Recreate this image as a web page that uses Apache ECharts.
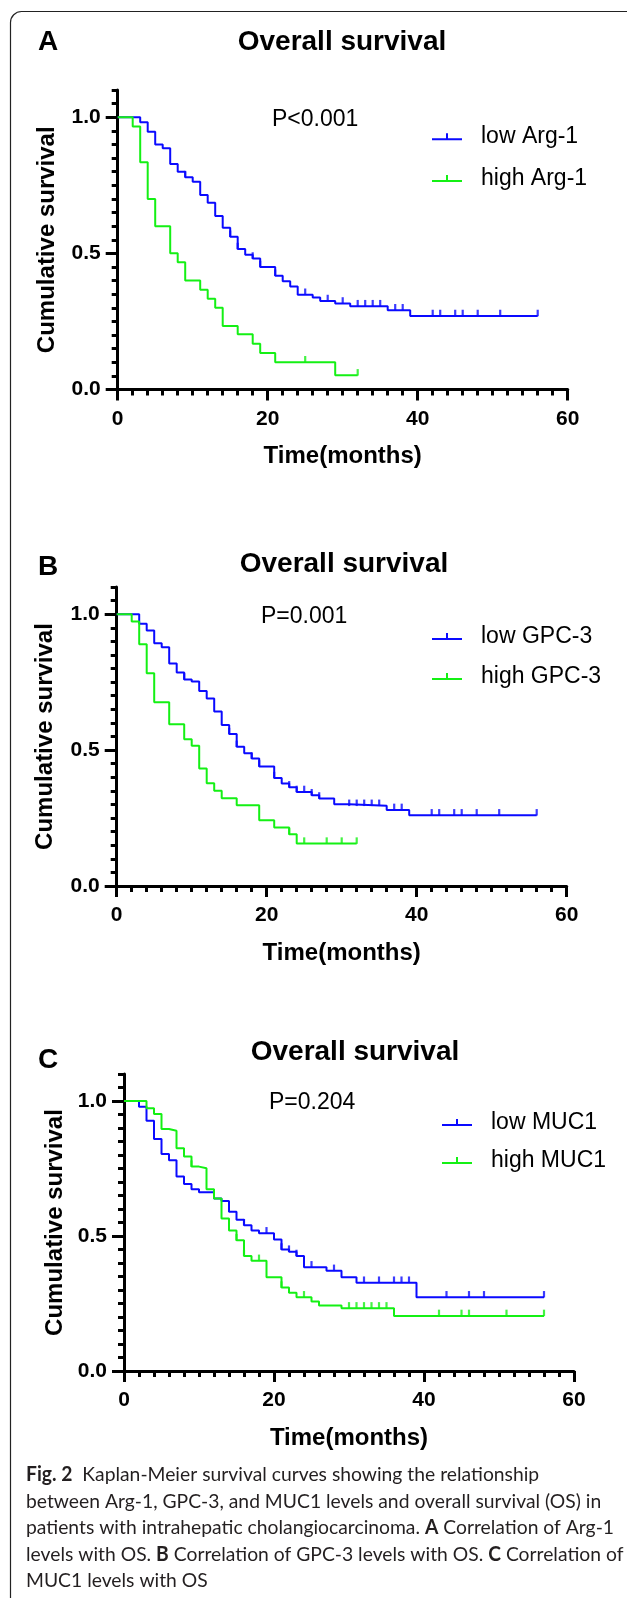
<!DOCTYPE html>
<html>
<head>
<meta charset="utf-8">
<script src="https://cdn.jsdelivr.net/npm/echarts@6/dist/echarts.min.js"></script>
<style>
html,body{margin:0;padding:0;background:#fff;}
#main{width:627px;height:1598px;}
</style>
</head>
<body>
<div id="main"></div>
<script>
// A: Arg-1
var tA_low = [0,3,4,5,6,7,8,9,10,11,12,13,14,15,16,17,18,19,21,22,23,24,26,27,29,31,36,39];
var sA_low = [1,0.982,0.947,0.90,0.886,0.828,0.80,0.78,0.763,0.714,0.686,0.637,0.594,0.561,0.516,0.495,0.481,0.45,0.418,0.398,0.378,0.348,0.338,0.325,0.316,0.306,0.291,0.27];
var cA_low = [9,15,16,18,19,21,25,28,30,32,33,34,35,37,38,42,43,45,46,48,51,56];
var tA_high = [0,2,3,4,5,7,8,9,11,12,13,14,16,18,19,21,29];
var sA_high = [1,0.966,0.835,0.70,0.60,0.50,0.467,0.40,0.366,0.333,0.30,0.233,0.203,0.168,0.134,0.10,0.052];
var cA_high = [25,32];

// B: GPC-3
var tB_low = [0,3,4,5,6,7,8,9,10,11,12,13,14,15,16,17,18,19,21,22,23,24,26,27,29,31,36,39];
var sB_low = [1,0.965,0.94,0.893,0.878,0.819,0.785,0.76,0.752,0.717,0.69,0.642,0.592,0.559,0.512,0.488,0.469,0.44,0.397,0.377,0.363,0.346,0.334,0.322,0.301,0.295,0.28,0.26];
var cB_low = [9,15,16,18,19,21,23,24,25,26,27,31,32,33,34,35,37,38,42,43,45,46,48,51,56];
var tB_high = [0,2,3,4,5,7,9,10,11,12,13,14,16,19,21,23,24];
var sB_high = [1,0.973,0.889,0.783,0.676,0.595,0.54,0.516,0.432,0.378,0.35,0.323,0.297,0.242,0.215,0.19,0.156];
var cB_high = [23,25,28,30,32];

// C: MUC1
var tC_low = [0,2,3,4,5,6,7,8,9,10,12,13,14,15,16,17,18,20,21,22,23,24,27,29,31,39];
var sC_low = [1,0.979,0.927,0.859,0.804,0.781,0.72,0.693,0.673,0.662,0.639,0.63,0.59,0.56,0.54,0.52,0.51,0.487,0.45,0.442,0.426,0.384,0.371,0.347,0.327,0.273];
var cC_low = [16,19,21,22,23,25,28,32,34,36,37,38,43,46,48,56];
var tC_high = [0,3,4,5,6,7,8,9,10,11,12,13,14,15,16,17,19,21,22,23,25,26,29,36];
var sC_high = [1,0.973,0.952,0.896,0.89,0.825,0.794,0.757,0.751,0.673,0.639,0.565,0.52,0.484,0.426,0.408,0.347,0.309,0.29,0.273,0.257,0.243,0.232,0.204];
var cC_high = [9,15,16,18,21,24,30,31,32,33,34,35,42,45,46,51,56];

var endLow = 56, endHigh = [32,32,56];
var xTicks = [0,60,20];
var yMajor = [0,0.5,1.0];
var names = [['low Arg-1','high Arg-1'],['low GPC-3','high GPC-3'],['low MUC1','high MUC1']];
var pText = ['P<0.001','P=0.001','P=0.204'];
var letters = ['A','B','C'];

var captionLines = [
	'{b|Fig. 2}  Kaplan-Meier survival curves showing the relationship',
	'between Arg-1, GPC-3, and MUC1 levels and overall survival (OS) in',
	'patients with intrahepatic cholangiocarcinoma. {b|A} Correlation of Arg-1',
	'levels with OS. {b|B} Correlation of GPC-3 levels with OS. {b|C} Correlation of',
	'MUC1 levels with OS'
];

var BLUE = '#0a0aff', GREEN = '#14f014';
var FONT = 'Liberation Sans';

// 每个面板的位置
var panels = [
	{left:117.7, top:90, height:299.5, title:[342,42], letter:[48,42], p:[272,120], leg:[427,117.3,12.7], yGap:58},
	{left:116.7, top:587, height:299, title:[344,564], letter:[48,567], p:[261,617], leg:[427,617,11], yGap:59},
	{left:124, top:1074, height:297, title:[355,1052], letter:[48,1060], p:[269,1103], leg:[437,1103,9], yGap:53}
];

function survAt(ts, ss, t){
	var v = ss[0];
	for(var i=0;i<ts.length;i++){
		if(ts[i] <= t) v = ss[i];
	}
	return v;
}

function kmSeries(name, ts, ss, end, cens, color, gi){
	var line = ts.map(function(t,i){ return [t, ss[i]]; });
	line.push([end, ss[ss.length-1]]);
	return [{
		type:'line', name:name, xAxisIndex:gi, yAxisIndex:gi*2,
		step:'end', data:line, showSymbol:false, symbol:'none',
		lineStyle:{color:color, width:2}, itemStyle:{color:color}
	},{
		type:'scatter', name:name, xAxisIndex:gi, yAxisIndex:gi*2,
		data:cens.map(function(t){ return [t, survAt(ts, ss, t)]; }),
		symbol:'rect', symbolSize:[2.2,6.5], symbolOffset:[0,-3],
		itemStyle:{color:color}
	}];
}

var groups = [
	[tA_low,sA_low,cA_low,tA_high,sA_high,cA_high],
	[tB_low,sB_low,cB_low,tB_high,sB_high,cB_high],
	[tC_low,sC_low,cC_low,tC_high,sC_high,cC_high]
];

var grid = [], xAxis = [], yAxis = [], series = [], legend = [], graphic = [];
var axisLine = {lineStyle:{color:'#000', width:3}};

panels.forEach(function(p, i){
	grid.push({left:p.left, top:p.top, width:450, height:p.height});
	xAxis.push({
		gridIndex:i, type:'value', min:xTicks[0], max:xTicks[1], interval:xTicks[2],
		axisLine:axisLine,
		axisTick:{length:11, lineStyle:{color:'#000', width:3}},
		minorTick:{show:true, splitNumber:10, length:6, lineStyle:{color:'#000', width:3}},
		axisLabel:{fontSize:21, fontWeight:'bold', fontFamily:FONT, color:'#000', margin:19},
		splitLine:{show:false},
		name:'Time(months)', nameLocation:'middle', nameGap:55,
		nameTextStyle:{fontSize:24, fontWeight:'bold', fontFamily:FONT, color:'#000'}
	});
	yAxis.push({
		gridIndex:i, type:'value', min:0, max:1.1, position:'left',
		axisLine:{show:true, lineStyle:{color:'#000', width:3}},
		axisTick:{show:true, customValues:yMajor, length:12, lineStyle:{color:'#000', width:3}},
		axisLabel:{customValues:yMajor, fontSize:21, fontWeight:'bold', fontFamily:FONT, color:'#000', margin:17,
			formatter:function(v){ return v.toFixed(1); }},
		splitLine:{show:false},
		name:'Cumulative survival', nameLocation:'middle', nameGap:p.yGap, nameRotate:90,
		nameTextStyle:{fontSize:24, fontWeight:'bold', fontFamily:FONT, color:'#000'}
	});
	// 次刻度
	yAxis.push({
		gridIndex:i, type:'value', min:0, max:1.1, interval:0.05, position:'left', offset:0,
		axisLine:{show:false},
		axisTick:{show:true, length:6, lineStyle:{color:'#000', width:3}},
		axisLabel:{show:false}, splitLine:{show:false}
	});

	var g = groups[i];
	series = series.concat(kmSeries(names[i][0], g[0], g[1], endLow, g[2], BLUE, i));
	series = series.concat(kmSeries(names[i][1], g[3], g[4], endHigh[i], g[5], GREEN, i));

	legend.push({
		orient:'vertical', left:p.leg[0], top:p.leg[1], itemGap:p.leg[2],
		itemWidth:30, itemHeight:7, selectedMode:false,
		icon:'path://M0,5h30v2h-30z M14,0h2v7h-2z',
		textStyle:{fontSize:23, fontFamily:FONT, color:'#000', lineHeight:24, padding:[5,0,0,14]},
		data:names[i]
	});

	graphic.push({type:'text', x:p.title[0], y:p.title[1], style:{text:'Overall survival', fill:'#000',
		font:'bold 28px "Liberation Sans"', align:'center', verticalAlign:'middle'}});
	graphic.push({type:'text', x:p.letter[0], y:p.letter[1], style:{text:letters[i], fill:'#000',
		font:'bold 28px "Liberation Sans"', align:'center', verticalAlign:'middle'}});
	graphic.push({type:'text', x:p.p[0], y:p.p[1], style:{text:pText[i], fill:'#000',
		font:'23px "Liberation Sans"', align:'left', verticalAlign:'middle'}});
});

// 图注，按最长一行压缩
var capFont = 'Lato', capSize = 20;
var ctx2 = document.createElement('canvas').getContext('2d');
function lineWidth(s){
	var w = 0;
	s.split(/(\{b\|[^}]*\})/).forEach(function(part){
		if(!part) return;
		var m = part.match(/^\{b\|([^}]*)\}$/);
		ctx2.font = (m ? 'bold ' : '') + capSize + 'px ' + capFont;
		w += ctx2.measureText(m ? m[1] : part).width;
	});
	return w;
}
var capScale = (614 - 26) / lineWidth(captionLines[2]);
var capY = [1475,1501.5,1528,1554.5,1581];
captionLines.forEach(function(s, k){
	graphic.push({type:'text', x:26, y:capY[k], scaleX:capScale, style:{
		text:s, fill:'#231f20', fontSize:capSize, fontFamily:capFont, verticalAlign:'middle',
		rich:{b:{fontSize:capSize, fontFamily:capFont, fontWeight:'bold', fill:'#231f20'}}
	}});
});

// 外框
graphic.push({type:'rect', shape:{x:10.5, y:11.5, width:680, height:1660, r:11},
	style:{fill:'none', stroke:'#222', lineWidth:1.2}, z:-1});

var myChart = echarts.init(document.getElementById('main'));
myChart.setOption({
	animation:false,
	backgroundColor:'#fff',
	grid:grid, xAxis:xAxis, yAxis:yAxis, legend:legend,
	graphic:graphic, series:series
});
</script>
</body>
</html>
